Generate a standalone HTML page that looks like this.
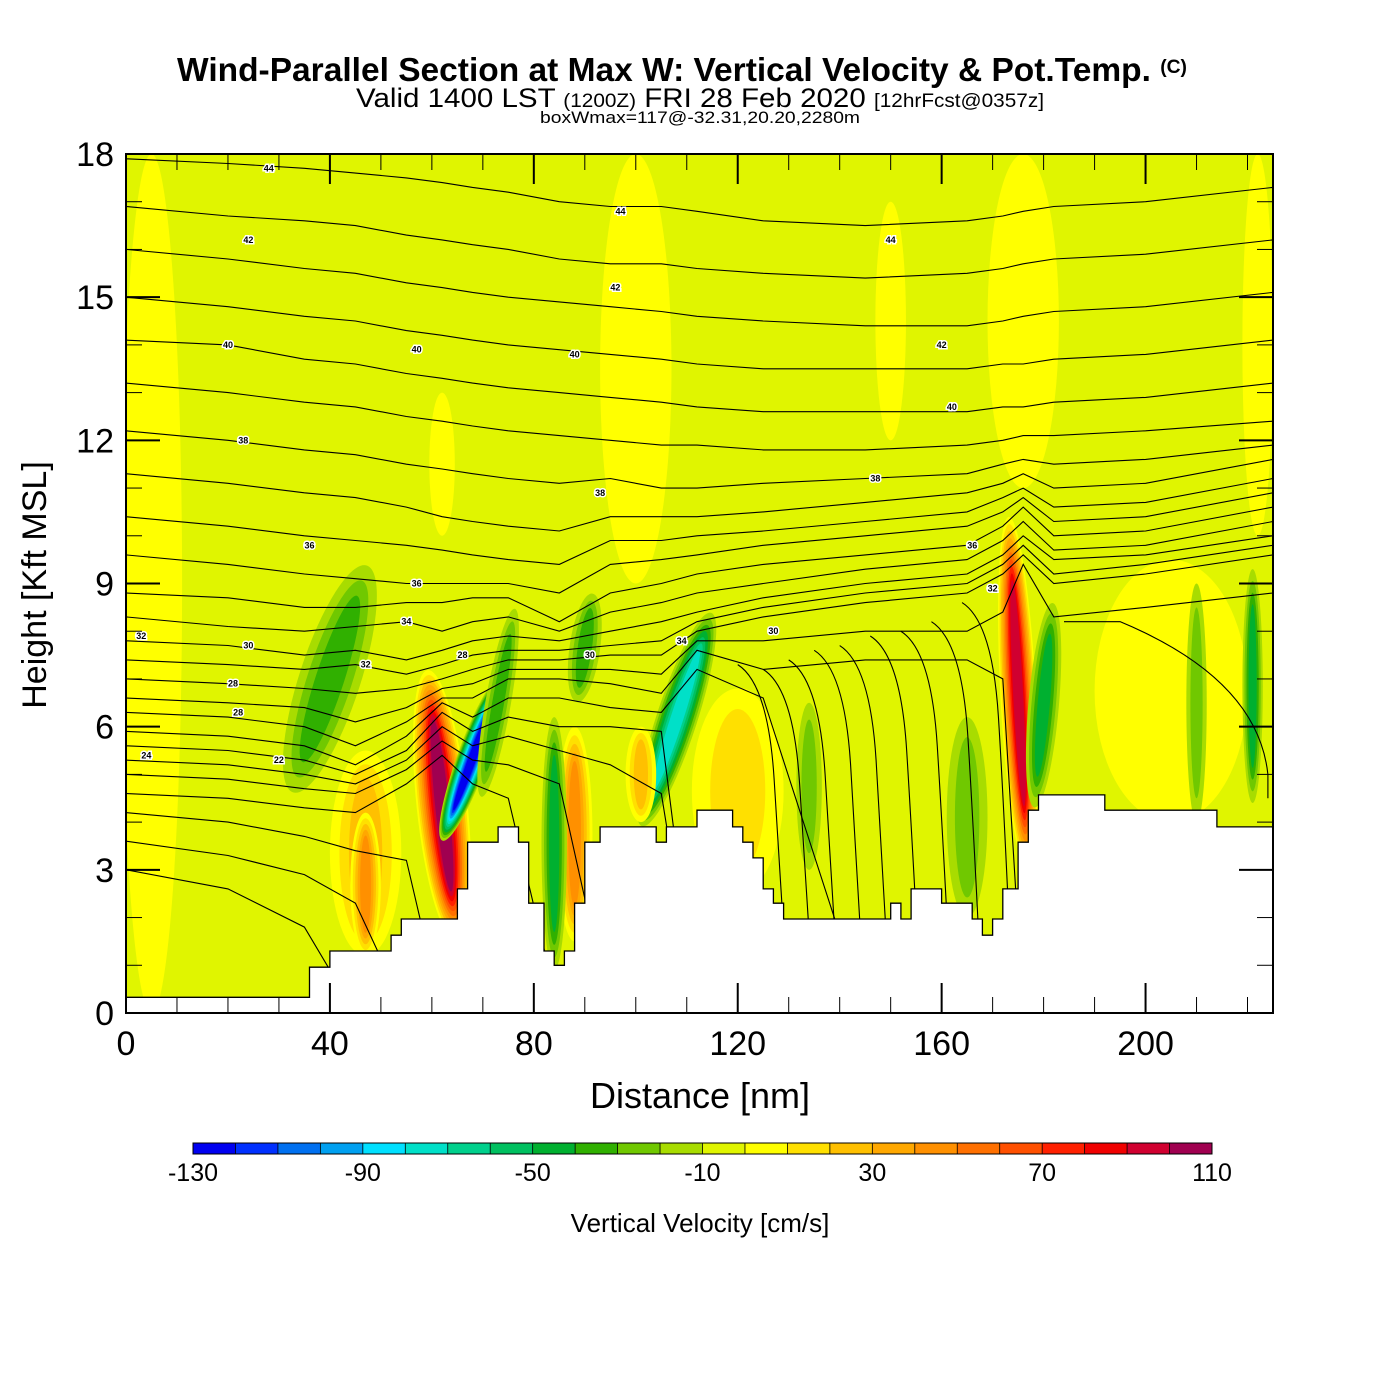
<!DOCTYPE html>
<html><head><meta charset="utf-8">
<style>
html,body{margin:0;padding:0;background:#fff;}
svg{display:block;font-family:"Liberation Sans",sans-serif;}
</style></head>
<body>
<svg id="chart" width="1400" height="1400" viewBox="0 0 1400 1400" xmlns="http://www.w3.org/2000/svg">
<rect x="0" y="0" width="1400" height="1400" fill="#fff"/>
<text x="682" y="81" text-anchor="middle" font-size="33" font-weight="bold" textLength="1010" lengthAdjust="spacingAndGlyphs">Wind-Parallel Section at Max W: Vertical Velocity &amp; Pot.Temp. <tspan font-size="19" dy="-8">(C)</tspan></text>
<text x="700" y="107" text-anchor="middle" font-size="27" textLength="688" lengthAdjust="spacingAndGlyphs">Valid 1400 LST <tspan font-size="19">(1200Z)</tspan> FRI 28 Feb 2020 <tspan font-size="19">[12hrFcst@0357z]</tspan></text>
<text x="700" y="123" text-anchor="middle" font-size="17" textLength="320" lengthAdjust="spacingAndGlyphs">boxWmax=117@-32.31,20.20,2280m</text>
<defs><clipPath id="pc"><rect x="126" y="154" width="1147" height="859"/></clipPath></defs>
<g id="plot" clip-path="url(#pc)">
<rect x="126" y="154" width="1147" height="859" fill="#e0f500"/>
<g id="feat"></g><g id="cont"></g><g id="terr"></g><g id="labs"></g>
</g>
<g id="axes"></g>
<g id="cbar"></g>
<text x="700" y="1108" text-anchor="middle" font-size="36">Distance [nm]</text>
<text transform="translate(46,585) rotate(-90)" text-anchor="middle" font-size="34">Height [Kft MSL]</text>
<text x="700" y="1232" text-anchor="middle" font-size="26">Vertical Velocity [cm/s]</text>
</svg>
<script>
// ---- data ----
const terrX = [0,36,36,40,40,52,52,54,54,65,65,67,67,73,73,77,77,79,79,82,82,84,84,86,86,88,88,90,90,93,93,104,104,106,106,112,112,119,119,121,121,123,123,125,125,127,127,129,129,150,150,152,152,154,154,160,160,166,166,168,168,170,170,172,172,175,175,177,177,179,179,192,192,214,214,225];
const terrH = [0.33,0.33,0.96,0.96,1.3,1.3,1.63,1.63,1.97,1.97,2.6,2.6,3.58,3.58,3.9,3.9,3.58,3.58,2.3,2.3,1.3,1.3,1.0,1.0,1.3,1.3,2.3,2.3,3.58,3.58,3.9,3.9,3.58,3.58,3.9,3.9,4.25,4.25,3.9,3.9,3.58,3.58,3.25,3.25,2.6,2.6,2.3,2.3,1.97,1.97,2.3,2.3,1.97,1.97,2.6,2.6,2.3,2.3,1.97,1.97,1.63,1.63,1.97,1.97,2.6,2.6,3.58,3.58,4.25,4.25,4.57,4.57,4.25,4.25,3.9,3.9];
// features: center distance, bottom, top (kft), width (nm), peak w (cm/s), tilt (deg)
const featX    = [5,  100, 176, 150, 62, 222, 205, 40,  62, 47, 47, 88,  84,  108, 121, 175, 180, 165, 221, 68,  134, 210, 73, 90, 101, 120];
const featBot  = [0,  9,   11,  12,  10, 10,  4,   4.5, 1.5,1.2,1.2,1.5, 0.9, 3.8, 3.0, 3.0, 4.3, 2.0, 4.4, 3.5, 3,   4,   4.5,6.5,4,   2.5];
const featTop  = [18, 18,  18,  17,  13, 18,  9.5, 9.5, 7.2,5.5,4.2,6.0, 6.2, 8.5, 6.8, 10.4,8.6, 6.2, 9.3, 7.2, 6.5, 9.0, 8.5,8.8,6,   6.8];
const featW    = [12, 14,  14,  6,   5,  6,   30,  12,  10, 14, 6,  7,   5,   8,   12,  7,   6,   8,   4,   6,   5,   4,   5,  6,  6,   18];
const featPeak = [10, 10,  10,  10,  10, 10,  10,  -30, 110,30, 50, 50,  -40, -70, 40,  100, -40, -20, -40, -120,-20, -20, -30,-30,30,  20];
const featTilt = [0,  0,   0,   0,   0,  0,   0,   18,  -6, 0,  0,  0,   0,   18,  0,   -3,  5,   0,   0,   20,  0,   0,   10, 8, 0,   0];
const cbTicks = [-130,-90,-50,-10,30,70,110];
const cbColors = ["#0000f0","#0030ff","#0070f0","#00a0f0","#00e0ff","#00e0c8","#00d08c","#00c060","#00b030","#30b000","#70c800","#a8dc00","#e0f500","#ffff00","#ffe000","#ffc000","#ffa800","#ff9000","#ff7000","#ff5000","#ff2000","#f00000","#d00030","#a00050"];
const contX = [0,20,35,45,55,62,68,75,85,95,105,112,125,145,165,172,176,182,200,225];
const contLevels = [
[17.9,17.8,17.7,17.6,17.5,17.4,17.3,17.2,17.0,16.9,16.9,16.8,16.6,16.5,16.6,16.7,16.8,16.9,17.0,17.3],
[16.9,16.7,16.6,16.5,16.3,16.2,16.1,16.0,15.8,15.7,15.7,15.6,15.5,15.4,15.5,15.6,15.7,15.8,15.9,16.2],
[16.0,15.8,15.6,15.5,15.3,15.2,15.1,15.0,14.9,14.8,14.7,14.6,14.5,14.4,14.4,14.5,14.6,14.7,14.8,15.1],
[15.0,14.8,14.6,14.5,14.3,14.2,14.1,14.0,13.9,13.8,13.7,13.6,13.5,13.5,13.5,13.6,13.6,13.7,13.8,14.1],
[14.1,14.0,13.7,13.6,13.4,13.3,13.2,13.1,13.0,12.9,12.8,12.7,12.6,12.6,12.6,12.7,12.7,12.8,12.9,13.2],
[13.2,13.0,12.8,12.7,12.5,12.4,12.3,12.2,12.1,12.0,11.9,11.9,11.8,11.8,11.9,12.0,12.1,12.1,12.2,12.4],
[12.2,12.0,11.8,11.7,11.5,11.4,11.3,11.2,11.1,11.2,11.0,11.0,11.1,11.2,11.3,11.5,11.6,11.5,11.6,11.9],
[11.3,11.1,10.9,10.8,10.6,10.4,10.3,10.2,10.1,10.4,10.4,10.4,10.5,10.7,10.9,11.1,11.3,11.0,11.1,11.6],
[10.4,10.2,10.0,9.9,9.8,9.7,9.6,9.5,9.4,9.9,9.9,10.0,10.1,10.3,10.5,10.8,11.0,10.6,10.7,11.2],
[9.6,9.4,9.2,9.1,9.0,9.0,9.0,9.0,8.8,9.4,9.5,9.6,9.8,10.0,10.2,10.5,10.8,10.3,10.4,10.9],
[8.8,8.7,8.5,8.5,8.6,8.6,8.7,8.7,8.2,8.8,9.0,9.2,9.4,9.6,9.8,10.2,10.6,10.0,10.1,10.6],
[8.3,8.1,8.0,8.1,8.2,8.0,8.2,8.3,8.0,8.4,8.6,8.8,9.0,9.3,9.5,9.9,10.3,9.7,9.8,10.3],
[7.8,7.7,7.5,7.6,7.4,7.6,7.8,7.9,7.8,8.0,8.2,8.4,8.7,9.0,9.2,9.6,10.0,9.5,9.6,10.0],
[7.4,7.3,7.2,7.3,7.1,7.3,7.5,7.6,7.6,7.7,7.8,8.2,8.5,8.8,9.0,9.4,9.8,9.2,9.4,9.8],
[7.0,6.9,6.8,6.7,6.8,7.0,7.2,7.4,7.4,7.5,7.5,8.0,8.3,8.6,8.8,9.2,9.6,9.0,9.2,9.6],
[6.6,6.5,6.4,6.1,6.4,6.8,6.9,7.2,7.2,7.2,7.1,7.8,7.8,8.0,8.0,8.4,9.4,8.3,8.5,8.8],
[6.3,6.2,6.0,5.6,6.1,6.6,6.6,7.0,7.0,6.9,6.7,7.6,7.2,7.4,7.4,7.0,0,0,0,0],
[5.9,5.8,5.6,5.2,5.8,6.5,6.2,6.6,6.6,6.4,6.3,7.2,6.6,0,0,0,0,0,0,0],
[5.6,5.5,5.3,5.0,5.5,6.3,5.9,6.2,6.0,6.0,5.9,0,0,0,0,0,0,0,0,0],
[5.3,5.2,5.0,4.8,5.3,6.0,5.6,5.8,5.5,5.2,4.6,0,0,0,0,0,0,0,0,0],
[5.0,4.9,4.7,4.6,5.1,5.7,5.3,5.2,4.8,0,0,0,0,0,0,0,0,0,0,0],
[4.6,4.5,4.3,4.2,4.8,5.4,4.8,4.5,0,0,0,0,0,0,0,0,0,0,0,0],
[4.2,4.0,3.7,3.4,3.2,0,0,0,0,0,0,0,0,0,0,0,0,0,0,0],
[3.6,3.3,2.9,2.3,0,0,0,0,0,0,0,0,0,0,0,0,0,0,0,0],
[3.0,2.6,1.8,0,0,0,0,0,0,0,0,0,0,0,0,0,0,0,0,0]
];
// vertical arc contours (right side): x start, top height
const arcX   = [124,129,134,139,144,150,156,162,168,187];
const arcTop = [6.9,6.8,7.0,7.2,7.3,7.5,7.6,7.8,8.2,8.8];
const labelX = [28,24,20,97,96,57,150,160,88,23,162,93,147,36,170,24,55,57,21,3,4,47,30,66,91,166,109,127,22];
const labelH = [17.7,16.2,14.0,16.8,15.2,13.9,16.2,14.0,13.8,12.0,12.7,10.9,11.2,9.8,8.9,7.7,8.2,9.0,6.9,7.9,5.4,7.3,5.3,7.5,7.5,9.8,7.8,8.0,6.3];
const labelT = ["44","42","40","44","42","40","44","42","40","38","40","38","38","36","32","30","34","36","28","32","24","32","22","28","30","36","34","30","28"];

// ---- helpers ----
const NS="http://www.w3.org/2000/svg";
const sx = d => 126 + d*1147/225;
const sy = h => 1013 - h*859/18;
const colorFor = v => { let i=Math.floor((v+130)/10); i=Math.max(0,Math.min(23,i)); return cbColors[i]; };
function mk(tag, attrs, parent){ const e=document.createElementNS(NS,tag); for(const k in attrs) e.setAttribute(k,attrs[k]); parent.appendChild(e); return e; }

// features
const gF=document.getElementById('feat');
for(let i=0;i<featX.length;i++){
  const p=featPeak[i], s=Math.sign(p), n=Math.round(Math.abs(p)/10);
  const cx=sx(featX[i]), cy=(sy(featBot[i])+sy(featTop[i]))/2;
  const rx0=featW[i]*1147/225/2, ry0=(sy(featBot[i])-sy(featTop[i]))/2;
  for(let k=1;k<=n;k++){
    const f=1-(k-1)/n*0.8;
    const e=mk('ellipse',{cx:cx,cy:cy,rx:rx0*f,ry:ry0*(1-(k-1)/n*0.4),fill:colorFor(s*(k*10-5)+(s<0?-10:0)),transform:`rotate(${featTilt[i]} ${cx} ${cy})`},gF);
    
    
  }
}
// contours
const gC=document.getElementById('cont');
contLevels.forEach(arr=>{
  const pts=arr.map((h,j)=>sx(contX[j]).toFixed(1)+','+sy(h).toFixed(1)).join(' ');
  const pl=mk('polyline',{points:pts,fill:'none',stroke:'#000','stroke-width':1.1},gC);
  
  
});
arcX.forEach((x,i)=>{
  const x0=sx(x), y0=sy(arcTop[i]), x1=sx(x+6), y1=sy(0);
  const d = i<arcX.length-1 ? `M${sx(x-4)},${sy(arcTop[i]+0.4)} Q${x0+10},${y0} ${x0+16},${sy(arcTop[i]-2)} T${x1},${y1}`
    : `M${sx(x-3)},${sy(arcTop[i]-0.6)} L${sx(x+8)},${sy(arcTop[i]-0.6)} Q${sx(222)},${sy(7)} ${sx(224)},${sy(5)} L${sx(224)},${sy(4.5)}`;
  const p=mk('path',{d:d,fill:'none',stroke:'#000','stroke-width':1.1},gC);
  
  
});
// terrain
const gT=document.getElementById('terr');
let tp=terrX.map((x,j)=>sx(x).toFixed(1)+','+sy(terrH[j]).toFixed(1)).join(' ');
tp += ` ${sx(225)},${sy(-1)} ${sx(0)},${sy(-1)}`;
const ter=mk('polygon',{points:tp,fill:'#fff',stroke:'#000','stroke-width':1.3},gT);


// labels
const gL=document.getElementById('labs');
labelX.forEach((x,i)=>{
  const t=mk('text',{x:sx(x),y:sy(labelH[i])+3,'text-anchor':'middle','font-size':9,'font-weight':'bold',stroke:'#fff','stroke-width':3,'paint-order':'stroke'},gL);
  t.textContent=labelT[i];
  
  
});
// axes
const gA=document.getElementById('axes');
const fr=mk('rect',{x:126,y:154,width:1147,height:859,fill:'none',stroke:'#000','stroke-width':2},gA);


for(let d=0; d<=220; d+=10){
  const major=d%40===0, L=major?30:16, x=sx(d);
  mk('line',{x1:x,y1:1013,x2:x,y2:1013-L,stroke:'#000','stroke-width':major?2:1},gA);
  mk('line',{x1:x,y1:154,x2:x,y2:154+L,stroke:'#000','stroke-width':major?2:1},gA);
  if(major){ const t=mk('text',{x:x,y:1055,'text-anchor':'middle','font-size':34},gA); t.textContent=d;
      }
}
for(let h=0; h<=18; h+=1){
  const major=h%3===0, L=major?34:16, y=sy(h);
  mk('line',{x1:126,y1:y,x2:126+L,y2:y,stroke:'#000','stroke-width':major?2:1},gA);
  mk('line',{x1:1273,y1:y,x2:1273-L,y2:y,stroke:'#000','stroke-width':major?2:1},gA);
  if(major){ const t=mk('text',{x:114,y:y+12,'text-anchor':'end','font-size':34},gA); t.textContent=h;
      }
}
// colorbar
const gB=document.getElementById('cbar');
const bw=(1212-193)/cbColors.length;
cbColors.forEach((c,i)=>{
  const r=mk('rect',{x:193+i*bw,y:1143,width:bw+0.5,height:11,fill:c},gB);
  
  
});
mk('rect',{x:193,y:1143,width:1019,height:11,fill:'none',stroke:'#000','stroke-width':1},gB);
for(let i=1;i<cbColors.length;i++) mk('line',{x1:193+i*bw,y1:1143,x2:193+i*bw,y2:1154,stroke:'#000','stroke-width':0.8},gB);
cbTicks.forEach(v=>{
  const t=mk('text',{x:193+(v+130)/10*bw,y:1181,'text-anchor':'middle','font-size':25},gB);
  t.textContent=v;
  
  
});
</script>
</body></html>
